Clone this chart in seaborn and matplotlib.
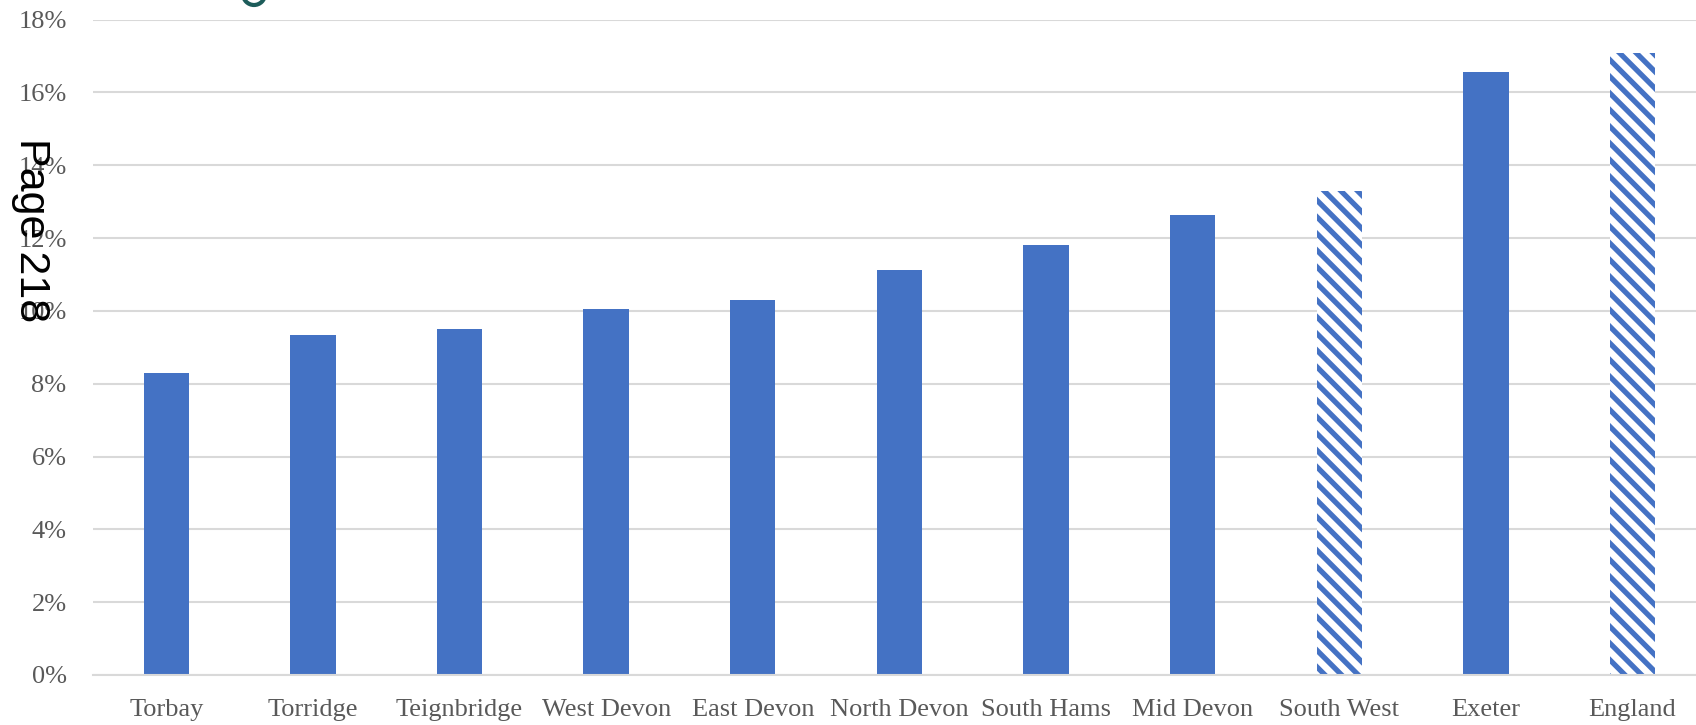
import matplotlib
matplotlib.use('Agg')
from matplotlib import pyplot as plt
from matplotlib.patches import Ellipse
from matplotlib.ticker import PercentFormatter
import pandas as pd
import seaborn as sns

sns.set_theme(style='white')
plt.rcParams['hatch.linewidth'] = 3.8

# Share by area (%)
areas = ['Torbay', 'Torridge', 'Teignbridge', 'West Devon', 'East Devon', 'North Devon',
         'South Hams', 'Mid Devon', 'South West', 'Exeter', 'England']
values = [8.29, 9.33, 9.50, 10.04, 10.31, 11.11, 11.82, 12.62, 13.28, 16.57, 17.08]
comparators = ['South West', 'England']

blue = '#4472C4'
grey = '#595959'

df = pd.DataFrame({'area': areas, 'value': values})

fig = plt.figure(figsize=(16.96, 7.25), dpi=100)
ax = fig.add_axes([0.0548, 0.069, 0.951, 0.904])

sns.barplot(data=df, x='area', y='value', color=blue, width=0.31, saturation=1, ax=ax)

# comparator bars drawn hatched
for patch, name in zip(ax.patches, areas):
  patch.set_linewidth(0)
  if name in comparators:
    patch.set_facecolor('white')
    patch.set_edgecolor(blue)
    patch.set_hatch('\\\\')

ax.set_ylim(0, 18)
ax.set_yticks(range(0, 19, 2))
ax.yaxis.set_major_formatter(PercentFormatter(decimals=0))
ax.grid(axis='y', color='#d9d9d9', linewidth=1.5)
ax.set_axisbelow(True)
for side in ['top', 'right', 'left']:
  ax.spines[side].set_visible(False)
ax.spines['bottom'].set_color('#d9d9d9')
ax.spines['bottom'].set_linewidth(1.5)
ax.tick_params(axis='both', length=0, labelcolor=grey, labelsize=19)
ax.tick_params(axis='y', pad=19)
ax.tick_params(axis='x', pad=17)
for lab in ax.get_xticklabels() + ax.get_yticklabels():
  lab.set_family('Liberation Serif')
ax.set_xlabel('')
ax.set_ylabel('')

# page stamp and logo fragment from the source document
fig.text(0.018, 0.683, 'Page 218', rotation=270, fontsize=31, color='black',
         family='Liberation Sans', ha='center', va='center')
fig.add_artist(Ellipse((254 / 1696, 1 + 6 / 725), 22 / 1696, 22 / 725,
                       transform=fig.transFigure, facecolor='none',
                       edgecolor='#1d5c5a', linewidth=3))

fig.savefig('out.png', dpi=100)
